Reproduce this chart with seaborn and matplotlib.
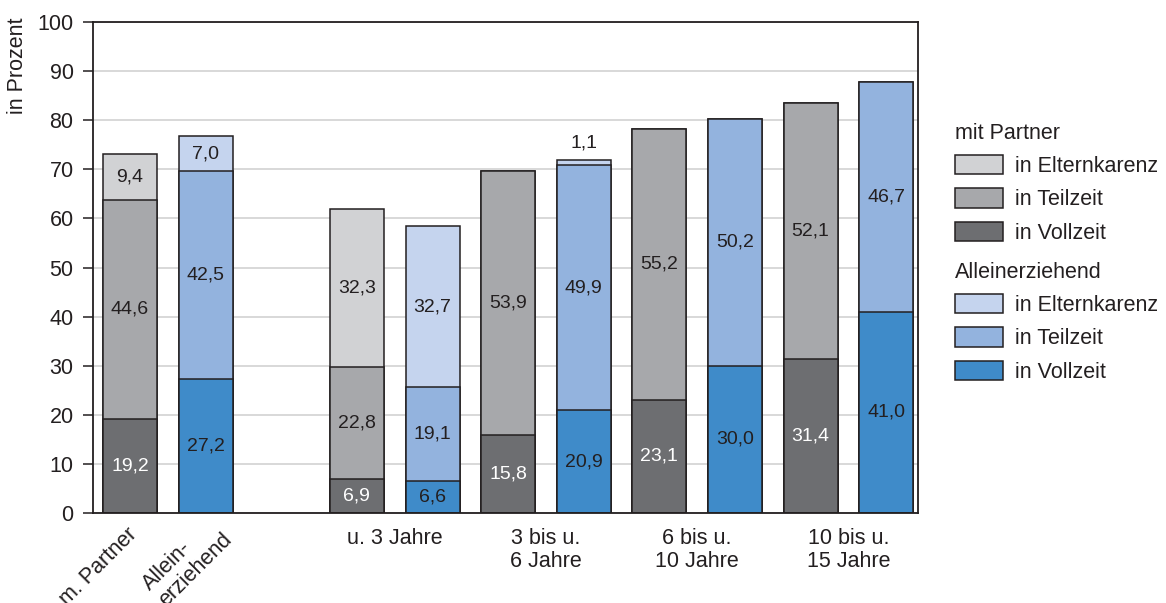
import matplotlib
matplotlib.use("Agg")
import matplotlib.pyplot as plt
import matplotlib.patches as mpatches
import pandas as pd
import seaborn as sns

# data
bar_group = ["mit Partner", "Alleinerziehend"] * 5
vollzeit = [19.2, 27.2, 6.9, 6.6, 15.8, 20.9, 23.1, 30.0, 31.4, 41.0]
teilzeit = [44.6, 42.5, 22.8, 19.1, 53.9, 49.9, 55.2, 50.2, 52.1, 46.7]
karenz = [9.4, 7.0, 32.3, 32.7, 0.0, 1.1, 0.0, 0.0, 0.0, 0.0]

single_labels = ["m. Partner", "Allein-\nerziehend"]
age_labels = ["u. 3 Jahre", "3 bis u.\n6 Jahre", "6 bis u.\n10 Jahre", "10 bis u.\n15 Jahre"]
legend_parts = ["in Elternkarenz", "in Teilzeit", "in Vollzeit"]

colors = {
    "mit Partner": ["#d1d2d4", "#a7a8ab", "#6d6e71"],
    "Alleinerziehend": ["#c5d4ee", "#93b3de", "#3f8bc9"],
}
edge = "#231f20"
txt = "#231f20"
fs = 15.5

sns.set_style("white")
plt.rcParams["font.family"] = ["Liberation Sans", "DejaVu Sans"]

df = pd.DataFrame({"group": bar_group, "voll": vollzeit, "teil": teilzeit, "karenz": karenz})
# one empty slot between the two overall bars and the age groups
df["pos"] = [i + (1 if i >= 2 else 0) for i in range(len(df))]
df["mid"] = df["voll"] + df["teil"]
df["total"] = df["mid"] + df["karenz"]

fig = plt.figure(figsize=(11.66, 6.03), dpi=100)
ax = fig.add_axes([93 / 1166, 1 - 513 / 603, (918 - 93) / 1166, (513 - 22) / 603])

# stacked bars drawn as overlapping cumulative layers
for col, layer in [("total", 0), ("mid", 1), ("voll", 2)]:
    pal = {g: colors[g][layer] for g in colors}
    sns.barplot(data=df, x="pos", y=col, hue="group", palette=pal, native_scale=True,
                width=0.714, dodge=False, saturation=1, errorbar=None,
                edgecolor=edge, linewidth=1.1, legend=False, ax=ax)


def fmt(v):
    return f"{v:.1f}".replace(".", ",")


lfs = 14
for _, r in df.iterrows():
    dark = r["group"] == "mit Partner"
    ax.text(r["pos"], r["voll"] / 2, fmt(r["voll"]), ha="center", va="center",
            fontsize=lfs, color="white" if dark else txt)
    ax.text(r["pos"], r["voll"] + r["teil"] / 2, fmt(r["teil"]), ha="center", va="center",
            fontsize=lfs, color=txt)
    if r["karenz"] >= 2:
        ax.text(r["pos"], r["mid"] + r["karenz"] / 2, fmt(r["karenz"]), ha="center",
                va="center", fontsize=lfs, color=txt)
    elif r["karenz"] > 0:
        ax.text(r["pos"], r["total"] + 3.5, fmt(r["karenz"]), ha="center", va="center",
                fontsize=lfs, color=txt)

ax.set_xlim(-0.49, 10.42)
ax.set_ylim(0, 100)
ax.set_yticks(range(0, 101, 10))
ax.set_xticks([])
ax.set_xlabel("")
ax.set_ylabel("")
ax.yaxis.grid(True, color="#d6d6d6", lw=1.3)
ax.set_axisbelow(True)
ax.tick_params(axis="y", left=True, direction="out", length=7, width=1.1, color=edge,
               labelsize=fs, pad=7, labelcolor=txt)
for s in ax.spines.values():
    s.set_visible(True)
    s.set_color(edge)
    s.set_linewidth(1.3)

# x labels
pos = df["pos"].tolist()
for p, lab, (dx, dy) in zip(pos[:2], single_labels, [(-0.05, -0.022), (-0.01, 0.0)]):
    ax.text(p + dx, dy, lab, transform=ax.get_xaxis_transform(), rotation=45,
            rotation_mode="anchor", ha="right", va="top", multialignment="left",
            fontsize=fs, color=txt, linespacing=1.15)
for i, lab in enumerate(age_labels):
    c = (pos[2 + 2 * i] + pos[3 + 2 * i]) / 2
    ax.text(c, -0.03, lab, transform=ax.get_xaxis_transform(), ha="center", va="top",
            fontsize=fs, color=txt, linespacing=1.15)

fig.text(18 / 1166, 1 - 66 / 603, "in Prozent", rotation=90, ha="center", va="center",
         fontsize=fs, color=txt)

# legends
for g, top in [("mit Partner", 123), ("Alleinerziehend", 262)]:
    handles = [mpatches.Patch(facecolor=c, edgecolor=edge, linewidth=1.1) for c in colors[g]]
    leg = fig.legend(handles, legend_parts, title=g, loc="upper left",
                     bbox_to_anchor=(955 / 1166, 1 - top / 603), frameon=False,
                     fontsize=fs, title_fontsize=fs, handlelength=2.25, handleheight=1.0,
                     handletextpad=0.55, labelspacing=0.52, borderpad=0, borderaxespad=0,
                     alignment="left")
    for t in leg.get_texts():
        t.set_color(txt)
    leg.get_title().set_color(txt)

fig.savefig("out.png", dpi=100)
